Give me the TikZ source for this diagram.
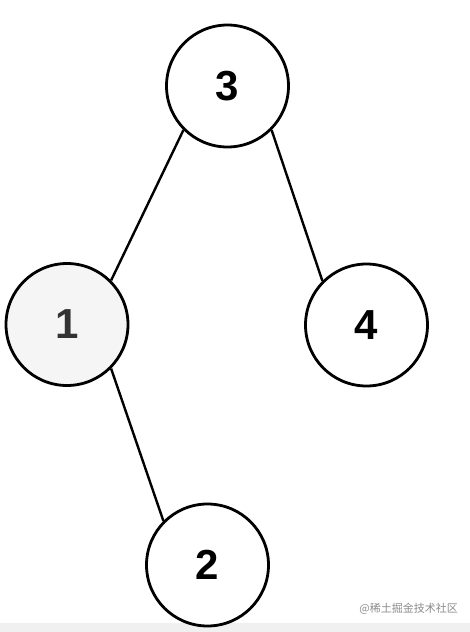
\documentclass[tikz,border=0pt]{standalone}
\usepackage{fontspec}
\setmainfont{Liberation Sans}
\newfontfamily\cjk{Noto Sans CJK SC}
\begin{document}
\begin{tikzpicture}[x=1pt,y=-1pt,
  treenode/.style={circle,draw=black,line width=2.8pt,minimum size=122pt,inner sep=0pt,fill=white,font=\fontsize{42}{42}\selectfont\bfseries},
  edge/.style={line width=2.4pt,black}]
\fill[white] (0,0) rectangle (470,632);
\useasboundingbox (0,0) rectangle (470,632);
\fill[black!6] (0,623) rectangle (470,632);
\node[treenode] (n3) at (227.5,86) {3};
\node[treenode,fill=black!4,text=black!80] (n1) at (67,324.5) {1};
\node[treenode] (n4) at (366.5,325) {4};
\node[treenode] (n2) at (207.5,565) {2};
\draw[edge] (n3.-135) -- (n1.45);
\draw[edge] (n3.-45) -- (n4.135);
\draw[edge] (n1.-45) -- (n2.135);
\node[anchor=east,inner sep=0pt,text=black!45,font=\cjk\fontsize{11}{11}\selectfont] (wm) at (458,609) {@稀土掘金技术社区};
\end{tikzpicture}
\end{document}
